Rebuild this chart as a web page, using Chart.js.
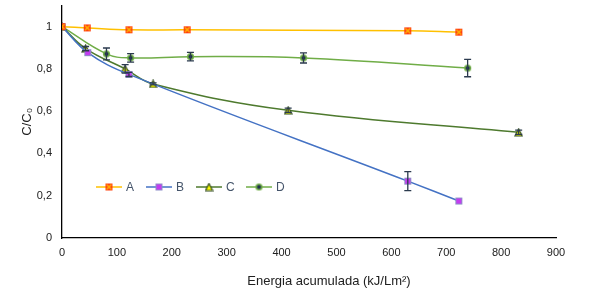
<!DOCTYPE html>
<html>
<head>
<meta charset="utf-8">
<script src="https://cdn.jsdelivr.net/npm/chart.js"></script>
<style>
  html, body { margin: 0; padding: 0; background: #fff; }
  #wrap { width: 614px; height: 302px; }
</style>
</head>
<body>
<div id="wrap"><canvas id="chart" width="614" height="302"></canvas></div>
<script>
// values
var labels = ['A', 'B', 'C', 'D'];

var aX = [0, 46, 122, 228, 630, 723];
var aY = [1, 0.994, 0.985, 0.985, 0.98, 0.974];
var aErr = [0, 0, 0, 0, 0, 0];

var bX = [0, 47, 122, 630, 723];
var bY = [1, 0.877, 0.774, 0.269, 0.175];
var bErr = [0, 0, 0.01, 0.045, 0];

var cX = [0, 43, 115, 166, 412, 832];
var cY = [1, 0.896, 0.80, 0.729, 0.604, 0.50];
var cErr = [0, 0.01, 0.02, 0.005, 0.01, 0.01];

var dX = [0, 81, 125, 234, 440, 739];
var dY = [1, 0.871, 0.852, 0.858, 0.852, 0.804];
var dErr = [0, 0.028, 0.02, 0.02, 0.024, 0.041];

var xTicks = [0, 100, 200, 300, 400, 500, 600, 700, 800, 900];
var yTicks = [0, 0.2, 0.4, 0.6, 0.8, 1];
var xTitle = 'Energia acumulada (kJ/Lm²)';

function pts(xs, ys) {
    return xs.map(function (x, i) { return { x: x, y: ys[i] }; });
}

// marker images
function marker(kind) {
    var c = document.createElement('canvas');
    c.width = 9; c.height = 9;
    var g = c.getContext('2d');
    if (kind === 'A') {
        g.fillStyle = '#ff3a12';
        g.fillRect(1, 1, 7, 7);
        g.strokeStyle = '#ffc000';
        g.lineWidth = 1.2;
        g.beginPath();
        g.moveTo(2, 2); g.lineTo(7, 7);
        g.moveTo(7, 2); g.lineTo(2, 7);
        g.stroke();
    } else if (kind === 'B') {
        g.fillStyle = '#8f8fc8';
        g.fillRect(1, 1, 7, 7);
        g.fillStyle = '#c43cf0';
        g.fillRect(2, 2, 5, 5);
    } else if (kind === 'C') {
        g.fillStyle = '#ffff00';
        g.strokeStyle = '#2f4a1c';
        g.lineWidth = 1.2;
        g.beginPath();
        g.moveTo(4.5, 1); g.lineTo(8, 8); g.lineTo(1, 8); g.closePath();
        g.fill(); g.stroke();
    } else {
        g.fillStyle = '#70ad47';
        g.beginPath(); g.arc(4.5, 4.5, 3.6, 0, Math.PI * 2); g.fill();
        g.fillStyle = '#1f3050';
        g.beginPath(); g.arc(4.5, 4.5, 2, 0, Math.PI * 2); g.fill();
    }
    return c;
}

var colors = ['#ffc000', '#4472c4', '#4e7a2e', '#70ad47'];
var markers = [marker('A'), marker('B'), marker('C'), marker('D')];

function ds(i, xs, ys, err) {
    return {
        label: labels[i],
        data: pts(xs, ys),
        err: err,
        showLine: true,
        borderColor: colors[i],
        borderWidth: 1.5,
        tension: 0.4,
        pointStyle: markers[i],
        pointRadius: 4,
        pointHoverRadius: 4
    };
}

var errorBars = {
    id: 'errorBars',
    afterDatasetsDraw: function (chart) {
        var ctx = chart.ctx;
        var xs = chart.scales.x, ys = chart.scales.y;
        ctx.save();
        ctx.strokeStyle = '#2b3a4e';
        ctx.lineWidth = 1.3;
        chart.data.datasets.forEach(function (d) {
            d.data.forEach(function (p, i) {
                var e = d.err[i];
                if (!e) return;
                var px = xs.getPixelForValue(p.x);
                var y1 = ys.getPixelForValue(p.y - e);
                var y2 = ys.getPixelForValue(p.y + e);
                ctx.beginPath();
                ctx.moveTo(px, y1); ctx.lineTo(px, y2);
                ctx.moveTo(px - 3.5, y1); ctx.lineTo(px + 3.5, y1);
                ctx.moveTo(px - 3.5, y2); ctx.lineTo(px + 3.5, y2);
                ctx.stroke();
            });
        });
        ctx.restore();
    }
};

var innerLegend = {
    id: 'innerLegend',
    afterDraw: function (chart) {
        var ctx = chart.ctx;
        var x0 = 96, y0 = 187, step = 50;
        ctx.save();
        ctx.font = '12px "Liberation Sans", Arial, sans-serif';
        ctx.textBaseline = 'middle';
        ctx.fillStyle = '#44546a';
        chart.data.datasets.forEach(function (d, i) {
            var x = x0 + i * step;
            ctx.strokeStyle = d.borderColor;
            ctx.lineWidth = 1.5;
            ctx.beginPath();
            ctx.moveTo(x, y0); ctx.lineTo(x + 26, y0);
            ctx.stroke();
            ctx.drawImage(markers[i], x + 13 - 4.5, y0 - 4.5);
            ctx.fillText(d.label, x + 30, y0 + 1);
        });
        // x axis title, a little right of the plot centre as in the original
        ctx.font = '13px "Liberation Sans", Arial, sans-serif';
        ctx.fillStyle = '#202020';
        ctx.textAlign = 'center';
        var a = chart.chartArea;
        ctx.fillText(xTitle, (a.left + a.right) / 2 + 20, 281);
        ctx.restore();
    }
};

var font = { family: '"Liberation Sans", Arial, sans-serif', size: 11 };

new Chart(document.getElementById('chart').getContext('2d'), {
    type: 'scatter',
    data: {
        datasets: [
            ds(0, aX, aY, aErr),
            ds(1, bX, bY, bErr),
            ds(2, cX, cY, cErr),
            ds(3, dX, dY, dErr)
        ]
    },
    options: {
        responsive: false,
        animation: false,
        layout: { padding: { left: 16, right: 58, top: 5, bottom: 9 } },
        plugins: {
            legend: { display: false },
            tooltip: { enabled: false }
        },
        scales: {
            x: {
                type: 'linear',
                min: 0, max: 900,
                afterBuildTicks: function (s) {
                    s.ticks = xTicks.map(function (v) { return { value: v }; });
                },
                afterFit: function (s) { s.height = 55; },
                grid: { display: false, drawTicks: false },
                border: { display: true, color: '#000', width: 1.3 },
                ticks: { color: '#202020', font: font, padding: 8, maxRotation: 0 }
            },
            y: {
                type: 'linear',
                min: 0, max: 1.1,
                afterBuildTicks: function (s) {
                    s.ticks = yTicks.map(function (v) { return { value: v }; });
                },
                afterFit: function (s) {
                    s.width = 46;
                    s.paddingTop = 0;
                    s.paddingBottom = 0;
                },
                grid: { display: false, drawTicks: false },
                border: { display: true, color: '#000', width: 1.3 },
                ticks: {
                    color: '#202020', font: font, padding: 10,
                    callback: function (v) {
                        if (v === 0) return '0';
                        if (Math.abs(v - 1) < 1e-9) return '1';
                        return v.toFixed(1).replace('.', ',');
                    }
                },
                title: {
                    display: true,
                    text: 'C/C₀',
                    color: '#202020',
                    font: { family: font.family, size: 13 }
                }
            }
        }
    },
    plugins: [errorBars, innerLegend]
});
</script>
</body>
</html>
